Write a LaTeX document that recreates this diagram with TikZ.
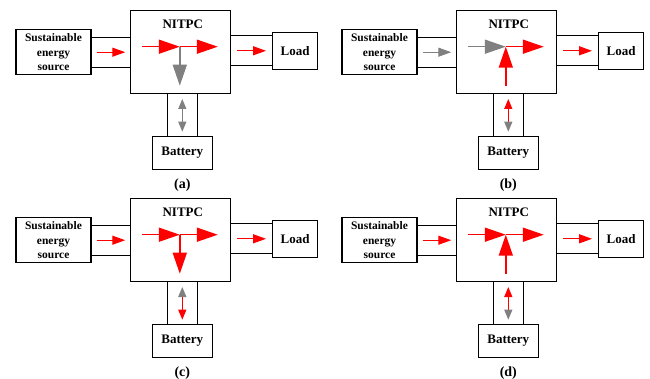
\documentclass[tikz,border=0pt]{standalone}
\usepackage{fontspec}
\setmainfont{Liberation Serif}
\usetikzlibrary{arrows.meta, positioning, calc}

\begin{document}
\begin{tikzpicture}[
    x=1pt, y=-1pt,
    blk/.style={draw, line width=1.1pt, inner sep=0pt, align=center,
                font=\bfseries\fontsize{13}{15}\selectfont},
    srcbox/.style={blk, minimum width=75pt, minimum height=45pt,
                   font=\bfseries\fontsize{11.5}{14.2}\selectfont},
    ttl/.style={inner sep=0pt, font=\bfseries\fontsize{13}{15}\selectfont},
    wall/.style={line width=1.1pt},
    bigarr/.style={line width=1.6pt, -{Triangle[length=21pt, width=14pt]}},
    smallarr/.style={line width=1.2pt, -{Triangle[length=13pt, width=9pt]}},
    dblarr/.style 2 args={line width=1.2pt,
        {Triangle[length=10pt, width=8pt, color=#1]}-{Triangle[length=10pt, width=8pt, color=#2]}}
]
    \useasboundingbox (0,0) rectangle (650,379);
    \foreach \p/\dx/\dy/\cin/\vfrom/\vto/\cv/\cbs/\cbe in
        {a/0/0/red/j/s/gray/gray/gray, b/326/0/gray/s/j/red/gray/red,
         c/0/188/red/j/s/red/red/gray, d/326/188/red/s/j/red/gray/red}{
        % blocks
        \node[blk, minimum width=100pt, minimum height=82.5pt] (nitpc\p) at (180.8+\dx, 52.2+\dy) {};
        \node[ttl, below=9.7pt of nitpc\p.north, xshift=2pt] (ttl\p) {NITPC};
        \node[srcbox, left=38.7pt of nitpc\p] (src\p) {Sustainable\\energy\\source};
        \node[blk, minimum width=45pt, minimum height=37pt, right=40.7pt of nitpc\p, yshift=1.4pt] (load\p) {Load};
        \node[blk, minimum width=60pt, minimum height=33pt, below=41.7pt of nitpc\p, xshift=1.5pt] (batt\p) {Battery};
        \node[ttl, below=8.4pt of batt\p.south, font=\bfseries\fontsize{14}{16}\selectfont] (cap\p) {(\p)};
        % channels
        \foreach \s in {-15,15}{
            \draw[wall] ($(src\p.east)+(0,\s)$) -- ($(src\p.east -| nitpc\p.west)+(0,\s)$);
            \draw[wall] ($(load\p.west -| nitpc\p.east)+(0,\s)$) -- ($(load\p.west)+(0,\s)$);
            \draw[wall] ($(nitpc\p.south -| batt\p.north)+(\s,0)$) -- ($(batt\p.north)+(\s,0)$);
        }
        % power flow
        \coordinate (j\p) at ($(nitpc\p.center)+(-1,-5.5)$);
        \coordinate (w\p) at ($(j\p)+(-38,0)$);
        \coordinate (e\p) at ($(j\p)+(38,0)$);
        \coordinate (s\p) at ($(j\p)+(0,39)$);
        \draw[smallarr, draw=\cin] ($(src\p.east)+(5,0)$) -- ($(src\p.east -| nitpc\p.west)+(-5,0)$);
        \draw[smallarr, draw=red] ($(load\p.west -| nitpc\p.east)+(6,0)$) -- ($(load\p.west)+(-6,0)$);
        \draw[dblarr={\cbs}{\cbe}, draw=\cv] ($(batt\p.north)+(0,-4)$) -- ($(nitpc\p.south -| batt\p.north)+(0,5)$);
        \draw[bigarr, draw=\cin] (w\p) -- (j\p);
        \draw[bigarr, draw=\cv] (\vfrom\p) -- (\vto\p);
        \draw[bigarr, draw=red] (j\p) -- (e\p);
    }
\end{tikzpicture}
\end{document}
